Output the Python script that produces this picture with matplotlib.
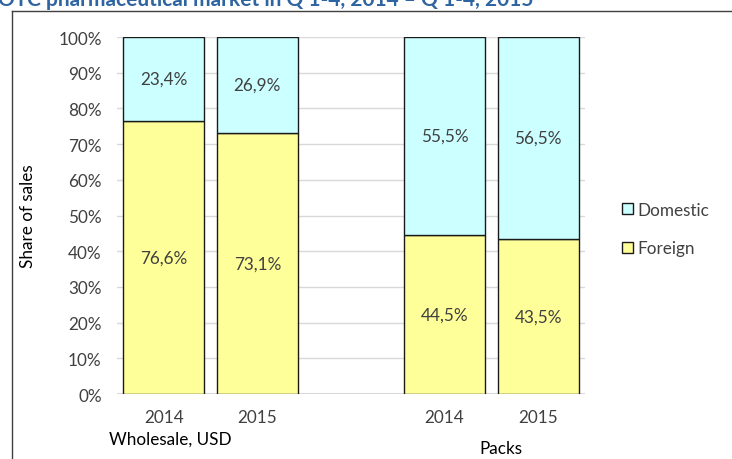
import numpy as np
import matplotlib
matplotlib.use('Agg')
import matplotlib.pyplot as plt
from matplotlib.lines import Line2D
from matplotlib.patches import Patch
import matplotlib.transforms as mtransforms

## data ##
years = ['2014', '2015', '', '2014', '2015']
groups = ['Wholesale, USD', 'Packs']
foreign = [76.6, 73.1, np.nan, 44.5, 43.5]
domestic = [23.4, 26.9, np.nan, 55.5, 56.5]
foreign_lbl = ['76,6%', '73,1%', '', '44,5%', '43,5%']
domestic_lbl = ['23,4%', '26,9%', '', '55,5%', '56,5%']
yticks = np.arange(0, 101, 10)

plt.rcParams['font.family'] = ['Lato', 'DejaVu Sans']
txt = '#404040'
fs = 12.3

W, H = 732, 460
fig = plt.figure(figsize=(W/100, H/100), dpi=100)
ax = fig.add_axes([117/W, 1-395/H, 468/W, 357/H])

x = np.arange(len(years))
bw = 0.865
ax.bar(x, foreign, bw, color='#FFFF99', edgecolor='#1a1a1a', linewidth=1, label='Foreign', zorder=3)
ax.bar(x, domestic, bw, bottom=foreign, color='#CCFFFF', edgecolor='#1a1a1a', linewidth=1, label='Domestic', zorder=3)

# data labels in the middle of each segment
for i in range(len(x)):
    if np.isnan(foreign[i]):
        continue
    ax.text(x[i], foreign[i]/2, foreign_lbl[i], ha='center', va='center', fontsize=fs, color=txt, zorder=4)
    ax.text(x[i], foreign[i] + domestic[i]/2, domestic_lbl[i], ha='center', va='center', fontsize=fs, color=txt, zorder=4)

ax.set_xlim(-0.5, len(years)-0.5)
ax.set_ylim(0, 100)
ax.set_yticks(yticks)
ax.set_yticklabels(['%d%%' % v for v in yticks])
ax.set_xticks([0, 1, 3, 4])
ax.set_xticklabels([years[i] for i in [0, 1, 3, 4]])
ax.tick_params(axis='both', length=0, labelsize=fs, labelcolor=txt)
ax.tick_params(axis='y', pad=11)
ax.tick_params(axis='x', pad=11)
ax.grid(axis='y', color='#D9D9D9', linewidth=1, zorder=0)
for s in ax.spines.values():
    s.set_visible(False)
ax.axhline(0, color='#D9D9D9', linewidth=1.5, zorder=1)

ax.set_ylabel('Share of sales', fontsize=fs, color='black')
ax.yaxis.set_label_coords(-0.173, 0.5)

# second level of the category axis
trans = mtransforms.blended_transform_factory(ax.transData, fig.transFigure)
ax.text(0.07, 1-440/H, groups[0], transform=trans, ha='center', va='center', fontsize=fs, color='black')
ax.text(3.6, 1-449/H, groups[1], transform=trans, ha='center', va='center', fontsize=fs, color='black')

handles = [Patch(facecolor='#CCFFFF', edgecolor='#1a1a1a', linewidth=1, label='Domestic'),
           Patch(facecolor='#FFFF99', edgecolor='#1a1a1a', linewidth=1, label='Foreign')]
leg = fig.legend(handles=handles, loc='center left', bbox_to_anchor=(607/W, 1-230/H),
                 frameon=False, fontsize=fs, handlelength=0.6, handleheight=0.6,
                 handletextpad=0.3, labelspacing=1.3)
for t in leg.get_texts():
    t.set_color(txt)

# chart frame (cut by the crop)
fig.add_artist(Line2D([12/W, 12/W], [0, 1-12/H], transform=fig.transFigure, color='#404040', lw=1))
fig.add_artist(Line2D([12/W, 1], [1-12/H, 1-12/H], transform=fig.transFigure, color='#404040', lw=1))

# title, only its lower part is visible in the reference
fig.text(-2/W, 1-6/H, 'OTC pharmaceutical market in Q 1-4, 2014 \u2013 Q 1-4, 2015',
         ha='left', va='baseline', fontsize=15, fontweight='bold', color='#2E64A0')

fig.savefig('out.png', dpi=100)
